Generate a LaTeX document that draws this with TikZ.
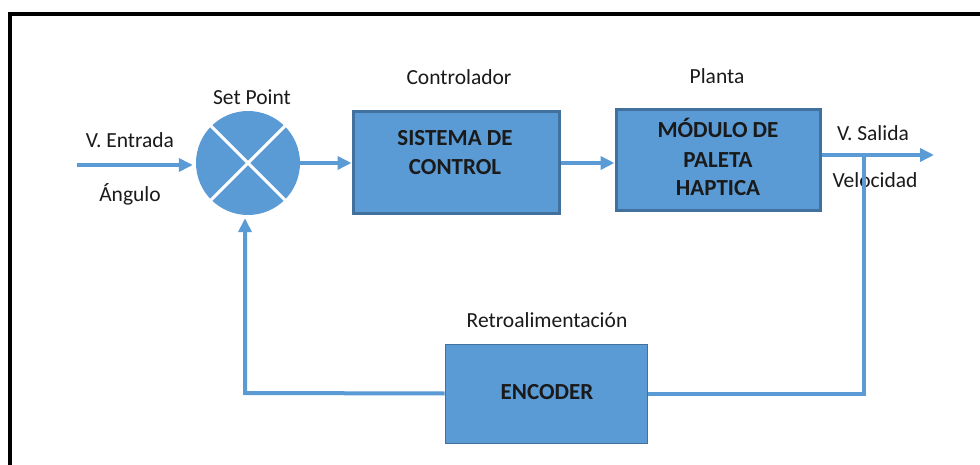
\documentclass[tikz,border=0pt]{standalone}
\usepackage{fontspec}
\setmainfont{Carlito}
\usetikzlibrary{arrows.meta}
\definecolor{bfill}{HTML}{5B9BD5}
\definecolor{bedge}{HTML}{41719C}
\definecolor{txt}{HTML}{1A1A1A}
\begin{document}
\begin{tikzpicture}[x=1pt,y=1pt,
  lbl/.style={text=txt,font=\fontsize{21.5}{26}\selectfont,inner sep=0pt},
  btxt/.style={text=txt,font=\fontsize{23}{28}\selectfont\bfseries,inner sep=0pt},
  bigbox/.style={draw=bedge,line width=3pt,fill=bfill,rectangle,inner sep=0pt},
  thinbox/.style={draw=bedge,line width=1pt,fill=bfill,rectangle,inner sep=0pt},
  conn/.style={draw=bfill,line width=4pt},
  arr/.style={conn,-{Triangle[length=14pt,width=13pt]}}]
\useasboundingbox (0,0) rectangle (980,464);
\fill[white] (0,0) rectangle (980,464);
% frame
\draw[line width=3.5pt] (980,450) -- (10,450) -- (10,-5);
% nodes
\node[circle,fill=bfill,minimum size=104pt,inner sep=0pt] (sp) at (248,301) {};
\draw[white,line width=3pt] (sp.north east) -- (sp.south west);
\draw[white,line width=3pt] (sp.north west) -- (sp.south east);
\node[bigbox,minimum width=206pt,minimum height=102pt] (sis) at (456,301) {};
\node[bigbox,minimum width=204pt,minimum height=101pt] (mod) at (718,303.5) {};
\node[thinbox,minimum width=202pt,minimum height=99pt] (enc) at (546,70.5) {};
% box texts
\node[btxt] (t1) at (455,326) {SISTEMA DE};
\node[btxt] (t2) at (455,297) {CONTROL};
\node[btxt] (t3) at (718,336) {MÓDULO DE};
\node[btxt] (t4) at (718,304) {PALETA};
\node[btxt] (t5) at (718,276) {HAPTICA};
\node[btxt] (t6) at (547,72) {ENCODER};
% labels
\node[lbl] (l1) at (130,324) {V. Entrada};
\node[lbl] (l2) at (130,270) {Ángulo};
\node[lbl] (l3) at (252,367) {Set Point};
\node[lbl] (l4) at (459,387) {Controlador};
\node[lbl] (l5) at (717,388) {Planta};
\node[lbl] (l6) at (873,331) {V. Salida};
\node[lbl] (l7) at (875,284) {Velocidad};
\node[lbl] (l8) at (547,144) {Retroalimentación};
% connectors
\coordinate (in) at (77,299);
\coordinate (out) at (934,309);
\coordinate (br) at (864,309);
\coordinate (fb) at (245,71);
\draw[arr,shorten >=3pt] (in) -- (in -| sp.west);
\draw[arr] (sp.east) -- (sis.west);
\draw[arr] (sis.east) -- (mod.west |- sis.east);
\draw[arr] (mod.east |- out) -- (out);
\draw[conn] (br) -- (br |- enc.east) -- (enc.east);
\draw[arr,shorten >=3pt] (enc.west) -- (fb) -- (fb |- sp.south);
\end{tikzpicture}
\end{document}
